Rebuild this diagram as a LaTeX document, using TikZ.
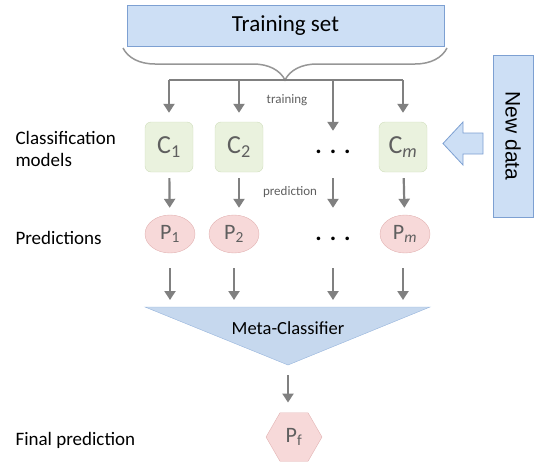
\documentclass[tikz,border=0pt]{standalone}
\usepackage{fontspec}
\setmainfont{Carlito}
\newfontfamily\arialfont{Liberation Sans}
\usetikzlibrary{arrows.meta,positioning,shapes.geometric,decorations.pathreplacing}

\definecolor{setfill}{RGB}{205,223,245}
\definecolor{setline}{RGB}{125,160,210}
\definecolor{modelfill}{RGB}{234,242,222}
\definecolor{modelline}{RGB}{208,222,188}
\definecolor{predfill}{RGB}{247,217,217}
\definecolor{predline}{RGB}{226,178,178}
\definecolor{metafill}{RGB}{198,216,238}
\definecolor{metaline}{RGB}{150,180,220}
\definecolor{arrgray}{RGB}{128,128,128}
\definecolor{bracegray}{RGB}{150,150,150}
\definecolor{labelgray}{RGB}{95,95,95}

\begin{document}
\begin{tikzpicture}[x=1pt,y=-1pt,
  arr/.style={-{Triangle[length=9pt,width=11pt]},line width=2.2pt,draw=arrgray},
  model/.style={draw=modelline,fill=modelfill,rounded corners=6pt,minimum width=48pt,minimum height=50pt,text=labelgray,font=\fontsize{26}{26}\selectfont},
  pred/.style={draw=predline,fill=predfill,ellipse,minimum width=50pt,minimum height=38pt,inner sep=0pt,text=labelgray,font=\fontsize{22}{22}\selectfont},
  lbl/.style={anchor=west,align=left,font=\fontsize{19}{22}\selectfont},
  small/.style={text=labelgray,font=\fontsize{13}{13}\selectfont},
  dots/.style={font=\bfseries\fontsize{24}{24}\selectfont}]
\useasboundingbox (0,0) rectangle (548,466);

% training set and brace
\node[draw=setline,fill=setfill,minimum width=317pt,minimum height=41pt,font=\fontsize{23}{23}\selectfont] (train) at (285.5,25.5) {Training set};
\draw[decorate,decoration={brace,amplitude=32pt},line width=1.5pt,draw=bracegray] (447,48) -- (123,48);
\coordinate (tip) at (286,80);

% classification models
\node[model] (c1) at (169,147) {C\textsubscript{1}};
\node[model] (c2) at (239,147) {C\textsubscript{2}};
\node[dots] (dc) at (333,152) {.\,\,.\,\,.};
\node[model] (cm) at (403,147) {C\textsubscript{\textit{m}}};

% predictions
\node[pred] (p1) at (170,234) {P\textsubscript{1}};
\node[pred] (p2) at (234,234) {P\textsubscript{2}};
\node[dots] (dp) at (333,239) {.\,\,.\,\,.};
\node[pred] (pm) at (405,234) {P\textsubscript{\textit{m}}};

% meta classifier
\coordinate (tl) at (145,307);
\coordinate (tr) at (430,307);
\coordinate (tb) at (288,365);
\draw[draw=metaline,fill=metafill] (tl) -- (tr) -- (tb) -- cycle;
\node[font=\fontsize{18.5}{18.5}\selectfont] (meta) at (288,328) {Meta-Classifier};
\node[draw=predline,fill=predfill,regular polygon,regular polygon sides=6,minimum size=56pt,inner sep=0pt,text=labelgray,font=\fontsize{22}{22}\selectfont] (pf) at (294,437) {P\textsubscript{f}};

% new data
\node[draw=setline,fill=setfill,rotate=-90,minimum width=162pt,minimum height=40pt,font=\arialfont\fontsize{21}{21}\selectfont] (new) at (513,136) {New data};
\draw[draw=setline,fill=setfill,line width=0.8pt] (443,143.5) -- (463,122) -- (463,133) -- (483,133) -- (483,154) -- (463,154) -- (463,165) -- cycle;

% training arrows
\coordinate (b1) at (c1 |- tip);
\coordinate (b3) at (dc |- tip);
\coordinate (b4) at (cm |- tip);
\draw[line width=2.2pt,draw=arrgray] (b1) -- (b4);
\draw[arr,shorten >=9pt] (b1) -- (c1);
\draw[arr,shorten >=9pt] (c2 |- tip) -- (c2);
\draw[arr] (b3) -- ([yshift=-9pt]b3 |- c1.north);
\draw[arr,shorten >=9pt] (b4) -- (cm);
\node[small] (ltrain) at (287,100) {training};

% prediction arrows
\draw[arr,shorten <=6pt,shorten >=7pt] (c1) -- (p1);
\draw[arr,shorten <=6pt,shorten >=7pt] (c2.south) -- (c2.south |- p2.north);
\draw[arr,shorten <=6pt,shorten >=7pt] (b3 |- c1.south) -- (b3 |- p1.north);
\draw[arr,shorten <=6pt,shorten >=7pt] (cm) -- (pm);
\node[small] (lpred) at (290,192) {prediction};

% arrows to meta classifier
\draw[arr,shorten <=15pt,shorten >=7pt] (p1) -- (p1 |- tl);
\draw[arr,shorten <=15pt,shorten >=7pt] (p2) -- (p2 |- tl);
\draw[arr,shorten <=15pt,shorten >=7pt] (b3 |- p1.south) -- (b3 |- tl);
\draw[arr,shorten <=15pt,shorten >=7pt] (cm |- pm.south) -- (cm |- tl);
\draw[arr,shorten <=10pt,shorten >=10pt] (tb) -- (tb |- pf.north);

% row labels
\node[lbl] (lmodels) at (12,149) {Classification\\models};
\node[lbl] (lpreds) at (12,238) {Predictions};
\node[lbl] (lfinal) at (12,440) {Final prediction};
\end{tikzpicture}
\end{document}
